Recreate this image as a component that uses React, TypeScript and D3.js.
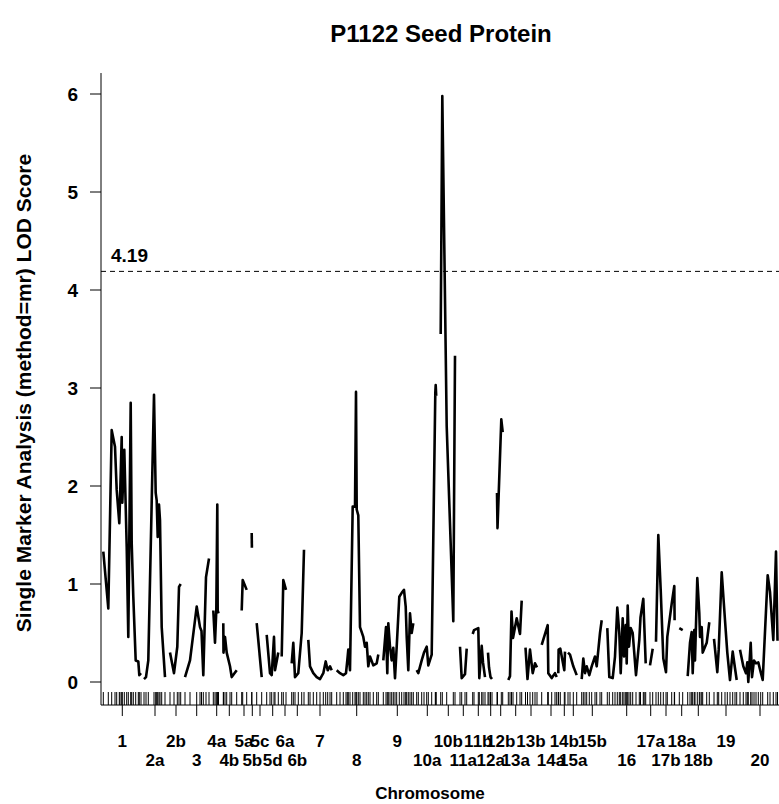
import React, { useEffect, useRef } from 'react'
import * as d3 from 'd3'

// chromosome labels and their midpoints on the genome map (cM, cumulative)
const CHROMS = ['1', '2a', '2b', '3', '4a', '4b', '5a', '5b', '5c', '5d', '6a', '6b', '7', '8', '9', '10a', '10b',
  '11a', '11b', '12a', '12b', '13a', '13b', '14a', '14b', '15a', '15b', '16', '17a', '17b', '18a', '18b', '19', '20']
const CHROM_MID = [21.3, 54, 75, 95.7, 115.7, 128.3, 143, 151.3, 159, 171.7, 184, 196.3, 219, 255.7, 296.3, 326.3, 347.3,
  362.3, 377.3, 389.7, 399.7, 414.7, 430, 450, 463.3, 472.3, 491.3, 525.7, 549.7, 565, 580.7, 597.3, 625, 659]

// LOD score at each marker, [position, lod], one array per chromosome
const LOD_1 = [[2.3, 1.33], [7.3, 0.75], [10.7, 2.57], [14, 2.4], [15.7, 1.96], [18.3, 1.62], [19, 1.86], [20.7, 2.5], [21.3, 1.83],
  [23.3, 2.37], [25.7, 1.38], [27.3, 0.46], [29.7, 2.85], [30.7, 1.42], [32.3, 0.87], [34.7, 0.22], [37.3, 0.21], [38.3, 0.07], [40, 0.09]]
const LOD_2A = [[43, 0.03], [45, 0.05], [47.3, 0.22], [53, 2.93], [54.7, 1.93], [55.7, 1.85], [56.7, 1.48], [58, 1.81], [59, 1.65], [60.7, 0.56], [64, 0.05]]
const LOD_2B = [[69, 0.3], [73, 0.09], [76.3, 0.36], [78, 0.97], [79.7, 1.0]]
const LOD_3 = [[84, 0.05], [89, 0.22], [95.7, 0.77], [99, 0.56], [100.5, 0.52], [102.3, 0.07], [105, 1.07], [108, 1.26]]
const LOD_4A = [[112.3, 0.73], [114, 0.4], [115.3, 0.73], [116.3, 1.81], [116.7, 0.73], [117.5, 0.7]]
const LOD_4B = [[122.3, 0.6], [122.5, 0.3], [124, 0.46], [125.7, 0.3], [129, 0.16], [130.7, 0.05], [135.7, 0.12]]
const LOD_5A = [[140.7, 0.73], [141.7, 1.04], [145.7, 0.94]]
const LOD_5B = [[150.7, 1.52], [150.9, 1.37]]
const LOD_5C = [[155.7, 0.6], [160.7, 0.05]]
const LOD_5D = [[165.7, 0.48], [169, 0.09], [170.7, 0.07], [173, 0.46], [174, 0.12], [177.3, 0.3]]
const LOD_6A = [[180.7, 0.26], [182.3, 1.04], [185, 0.94]]
const LOD_6B = [[190.7, 0.19], [192.3, 0.4], [194, 0.05], [197.3, 0.09], [200.7, 0.5], [203, 1.35]]
const LOD_7 = [[207.3, 0.43], [209, 0.16], [212.3, 0.09], [215.7, 0.05], [219, 0.03], [222.3, 0.09], [224.7, 0.21], [226.7, 0.12], [229, 0.16], [230.7, 0.12]]
const LOD_8 = [[235.7, 0.12], [239, 0.09], [242.3, 0.07], [245, 0.09], [246.3, 0.22], [247.3, 0.33], [249, 0.12], [251.7, 1.79], [254, 1.79],
  [255, 2.96], [255.7, 1.76], [257.3, 1.7], [259, 0.56], [262.3, 0.46], [264, 0.36], [265.7, 0.4], [267.3, 0.16], [269, 0.26], [272.3, 0.17], [275.7, 0.19], [277.3, 0.28]]
const LOD_9 = [[282.3, 0.22], [285, 0.56], [286.3, 0.09], [287.3, 0.6], [289, 0.36], [290.7, 0.22], [292.3, 0.35], [294, 0.04], [295.7, 0.36],
  [298.3, 0.87], [300.7, 0.91], [303, 0.94], [304.7, 0.77], [305.7, 0.46], [307.3, 0.12], [309, 0.7], [310.7, 0.5], [312.3, 0.6]]
const LOD_10A = [[315.7, 0.12], [317.3, 0.09], [320.7, 0.22], [323, 0.3], [325.7, 0.36], [327.3, 0.17], [330.7, 0.28], [334.3, 2.95], [334.7, 3.03], [335.2, 2.92]]
const LOD_10B = [[339.7, 3.55], [341.3, 5.98], [345.7, 2.61], [352.3, 0.62], [354, 3.33]]
const LOD_11A = [[359, 0.36], [360.7, 0.04], [364, 0.08], [365.7, 0.34]]
const LOD_11B = [[371.7, 0.49], [373, 0.53], [377.3, 0.55], [378.3, 0.04], [380.7, 0.37], [382, 0.2], [384, 0.05]]
const LOD_12A = [[387, 0.3], [388, 0.15], [389.5, 0.05], [391, 0.03]]
const LOD_12B = [[396, 1.93], [396.5, 1.57], [400.3, 2.68], [401.7, 2.55]]
const LOD_13A = [[407.3, 0.02], [409, 0.06], [410.5, 0.72], [412, 0.45], [415.7, 0.65], [419, 0.49], [420.7, 0.83]]
const LOD_13B = [[424.5, 0.35], [426.5, 0.03], [429, 0.33], [431.7, 0.09], [434, 0.19], [436, 0.15]]
const LOD_14A = [[440.7, 0.38], [446.7, 0.58], [447.3, 0.09], [450.7, 0.04], [454, 0.09], [455.7, 0.05]]
const LOD_14B = [[457.3, 0.09], [457.6, 0.33], [459.3, 0.34], [463.3, 0.12], [464, 0.31]]
const LOD_15A = [[467, 0.3], [469, 0.28], [472.3, 0.16], [475.7, 0.07]]
const LOD_15B = [[480.7, 0.03], [482.3, 0.24], [484, 0.09], [485.7, 0.16], [488.3, 0.07], [490.7, 0.16], [494, 0.26], [495.7, 0.16], [499, 0.5], [500.7, 0.63]]
const LOD_16 = [[506.3, 0.55], [508.3, 0.05], [511.7, 0.04], [514, 0.26], [516.3, 0.76], [518.3, 0.5], [519.7, 0.09], [521.7, 0.65], [523, 0.26],
  [524.7, 0.58], [525.7, 0.19], [526.7, 0.78], [528, 0.36], [529.7, 0.55], [531.7, 0.5], [535, 0.07], [538.3, 0.43], [539.5, 0.66], [542.3, 0.85], [543.2, 0.6], [544.7, 0.19]]
const LOD_17A = [[549, 0.17], [551.7, 0.34]]
const LOD_17B = [[555, 0.41], [557.3, 1.5], [559.7, 0.94], [562.3, 0.24], [565, 0.1], [566.3, 0.46], [570.7, 0.8], [573.3, 0.98], [573.6, 0.63]]
const LOD_18A = [[578.3, 0.55], [581.7, 0.53]]
const LOD_18B = [[586.7, 0.06], [589, 0.4], [590.7, 0.51], [591.7, 0.09], [593.3, 0.53], [594, 0.22], [596.3, 1.06], [598.3, 0.7], [599, 0.46],
  [600.7, 0.56], [601.7, 0.3], [605.7, 0.4], [608.3, 0.61]]
const LOD_19 = [[613, 0.44], [616.3, 0.1], [617.7, 0.33], [620.7, 1.12], [624, 0.63], [626.3, 0.3], [629, 0.02], [631.7, 0.31], [634, 0.14], [635.7, 0.02]]
const LOD_20 = [[639, 0.33], [642.3, 0.16], [645, 0.09], [646.3, 0.2], [647.3, 0.0], [649.7, 0.4], [651, 0.05], [653, 0.22], [655, 0.19], [657.3, 0.2],
  [659.7, 0.1], [661.7, 0.02], [666.7, 1.09], [669, 0.92], [672.3, 0.43], [675, 1.33], [676.5, 0.42]]

const THRESHOLD = 4.19
const Y_TICKS = [0, 1, 2, 3, 4, 5, 6]

const SEGMENTS = [LOD_1, LOD_2A, LOD_2B, LOD_3, LOD_4A, LOD_4B, LOD_5A, LOD_5B, LOD_5C, LOD_5D, LOD_6A, LOD_6B, LOD_7, LOD_8, LOD_9,
  LOD_10A, LOD_10B, LOD_11A, LOD_11B, LOD_12A, LOD_12B, LOD_13A, LOD_13B, LOD_14A, LOD_14B, LOD_15A, LOD_15B, LOD_16, LOD_17A, LOD_17B,
  LOD_18A, LOD_18B, LOD_19, LOD_20]

const FONT = '"Liberation Sans", Arial, Helvetica, sans-serif'

export default function App() {
  const svgRef = useRef<SVGSVGElement>(null)

  useEffect(() => {
    document.body.style.margin = '0'
    const W = 779
    const H = 804
    const svg = d3.select(svgRef.current)
    svg.selectAll('*').remove()
    svg.attr('width', W).attr('height', H)

    const x = d3.scaleLinear().domain([0, 683]).range([101, 784])
    const y = d3.scaleLinear().domain([0, 6]).range([682, 94])
    const yTop = y(6.214)
    const yBot = y(-0.235)
    const left = x(0)

    // title
    svg.append('text')
      .attr('x', 441).attr('y', 42)
      .attr('text-anchor', 'middle')
      .attr('font-family', FONT).attr('font-weight', 'bold').attr('font-size', '24px')
      .text('P1122 Seed Protein')

    // L-shaped frame
    svg.append('path')
      .attr('d', `M${left},${yTop}V${yBot}H${W + 10}`)
      .attr('fill', 'none').attr('stroke', '#000').attr('stroke-width', 1)

    // y axis ticks + labels
    const ya = svg.append('g')
    ya.selectAll('line').data(Y_TICKS).join('line')
      .attr('x1', left - 11).attr('x2', left)
      .attr('y1', d => y(d)).attr('y2', d => y(d))
      .attr('stroke', '#000')
    ya.selectAll('text').data(Y_TICKS).join('text')
      .attr('x', left - 23).attr('y', d => y(d))
      .attr('dy', '0.36em').attr('text-anchor', 'end')
      .attr('font-family', FONT).attr('font-weight', 'bold').attr('font-size', '19px')
      .text(d => d)

    svg.append('text')
      .attr('transform', `translate(31,${(yTop + yBot) / 2 + 4}) rotate(-90)`)
      .attr('text-anchor', 'middle')
      .attr('font-family', FONT).attr('font-weight', 'bold').attr('font-size', '21px')
      .text('Single Marker Analysis (method=mr) LOD Score')

    // threshold
    svg.append('line')
      .attr('x1', left).attr('x2', W + 10)
      .attr('y1', y(THRESHOLD)).attr('y2', y(THRESHOLD))
      .attr('stroke', '#000').attr('stroke-width', 1).attr('stroke-dasharray', '5,4')
    svg.append('text')
      .attr('x', left + 10).attr('y', y(THRESHOLD) - 9)
      .attr('font-family', FONT).attr('font-weight', 'bold').attr('font-size', '19px')
      .text(THRESHOLD.toFixed(2))

    // LOD curves, one path per chromosome
    const line = d3.line<number[]>().x(d => x(d[0])).y(d => y(d[1]))
    svg.append('g').selectAll('path').data(SEGMENTS).join('path')
      .attr('d', d => line(d))
      .attr('fill', 'none').attr('stroke', '#000').attr('stroke-width', 2.6)
      .attr('stroke-linejoin', 'round')

    // marker rug
    const markers = SEGMENTS.flat().map(d => d[0])
    svg.append('g').selectAll('line').data(markers).join('line')
      .attr('x1', d => x(d)).attr('x2', d => x(d))
      .attr('y1', yBot - 13).attr('y2', yBot)
      .attr('stroke', '#000').attr('stroke-width', 1)

    // chromosome ticks + two-row labels
    const xa = svg.append('g')
    xa.selectAll('line').data(CHROM_MID).join('line')
      .attr('x1', d => x(d)).attr('x2', d => x(d))
      .attr('y1', yBot).attr('y2', yBot + 11)
      .attr('stroke', '#000')
    xa.selectAll('text').data(CHROMS).join('text')
      .attr('x', (d, i) => x(CHROM_MID[i]))
      .attr('y', (d, i) => yBot + (i % 2 === 0 ? 42 : 61))
      .attr('text-anchor', 'middle')
      .attr('font-family', FONT).attr('font-weight', 'bold').attr('font-size', '17px')
      .text(d => d)

    svg.append('text')
      .attr('x', 430).attr('y', 799)
      .attr('text-anchor', 'middle')
      .attr('font-family', FONT).attr('font-weight', 'bold').attr('font-size', '17px')
      .text('Chromosome')
  }, [])

  return <svg ref={svgRef} style={{ display: 'block' }} />
}
